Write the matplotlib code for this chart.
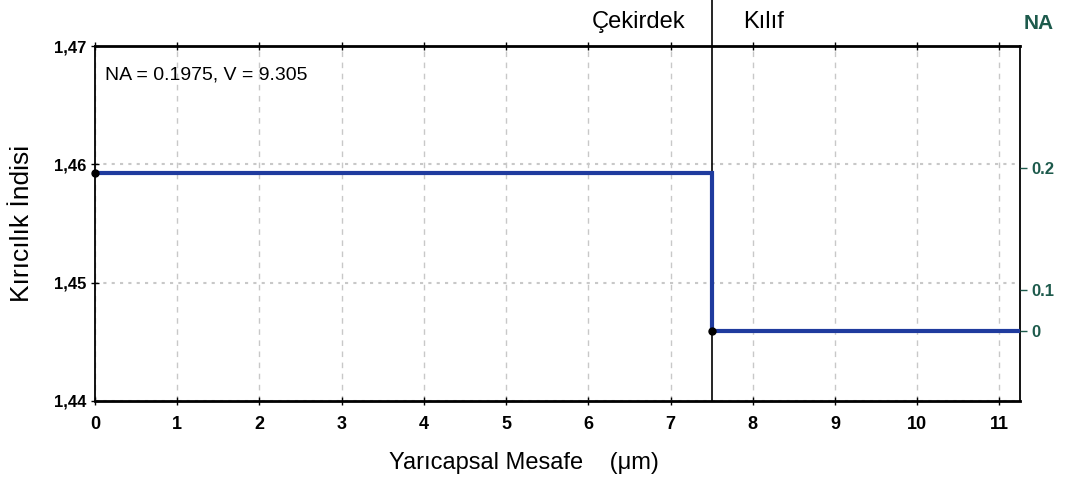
import numpy as np
import matplotlib.pyplot as plt

plt.rcParams['font.family'] = ['Liberation Sans', 'DejaVu Sans']

# profile data
radius = [0, 7.5, 7.5, 11.25]
index = [1.4593, 1.4593, 1.4459, 1.4459]
core_r = 7.5
n_clad = 1.4459
na_ticks = [0, 0.1, 0.2]
x_ticks = list(range(0, 12))
y_ticks = [1.44, 1.45, 1.46, 1.47]
y_labels = ['1,44', '1,45', '1,46', '1,47']

fig = plt.figure(figsize=(10.69, 4.86), dpi=100)
ax = fig.add_axes([0.0889, 0.1749, 0.8653, 0.7304])

ax.plot(radius, index, color='#1f3b9e', lw=3, solid_joinstyle='miter', zorder=3)
ax.plot([radius[0], radius[2]], [index[0], index[2]], 'o', color='black', ms=5,
        zorder=4, clip_on=False)
ax.axvline(core_r, color='black', lw=1.2, ymax=1.13, clip_on=False, zorder=2)

ax.set_xlim(0, 11.25)
ax.set_ylim(1.44, 1.47)
ax.set_xticks(x_ticks)
ax.set_yticks(y_ticks)
ax.set_yticklabels(y_labels)
ax.tick_params(axis='both', direction='inout', length=6, width=1, labelsize=13)
ax.tick_params(axis='y', labelsize=12)
ax.tick_params(axis='x', top=True, pad=8)
for lab in ax.get_xticklabels() + ax.get_yticklabels():
    lab.set_fontweight('bold')
ax.grid(axis='x', color='#c8c8c8', ls=(0, (4, 4)), lw=1)
ax.grid(axis='y', color='#c8c8c8', ls=(0, (1.5, 2.5)), lw=1.5)
for s in ['top', 'bottom']:
    ax.spines[s].set_linewidth(2)
for s in ['left', 'right']:
    ax.spines[s].set_linewidth(1.3)

ax.set_xlabel('Yarıcapsal Mesafe    (μm)', fontsize=17)
ax.xaxis.set_label_coords(0.464, -0.145)
ax.set_ylabel('Kırıcılık İndisi', fontsize=19, labelpad=14)

# right NA axis
ax2 = ax.twinx()
ax2.set_ylim(ax.get_ylim())
na_pos = [np.sqrt(n_clad**2 + v**2) for v in na_ticks]
ax2.set_yticks(na_pos)
ax2.set_yticklabels([str(v) if v else '0' for v in na_ticks])
ax2.tick_params(axis='y', length=5, width=1, labelsize=12, labelcolor='#1d5a4c',
                color='#1d5a4c')
for lab in ax2.get_yticklabels():
    lab.set_fontweight('bold')
for s in ax2.spines.values():
    s.set_visible(False)

ax.text(0.12, 1.4683, 'NA = 0.1975, V = 9.305', fontsize=14, va='top')
fig.text(0.641, 0.955, 'Çekirdek', fontsize=17, ha='right', va='center')
fig.text(0.695, 0.955, 'Kılıf', fontsize=17, ha='left', va='center')
fig.text(0.972, 0.952, 'NA', fontsize=15, ha='center', va='center',
         color='#1d5a4c', fontweight='bold')

fig.savefig('out.png', dpi=100)
